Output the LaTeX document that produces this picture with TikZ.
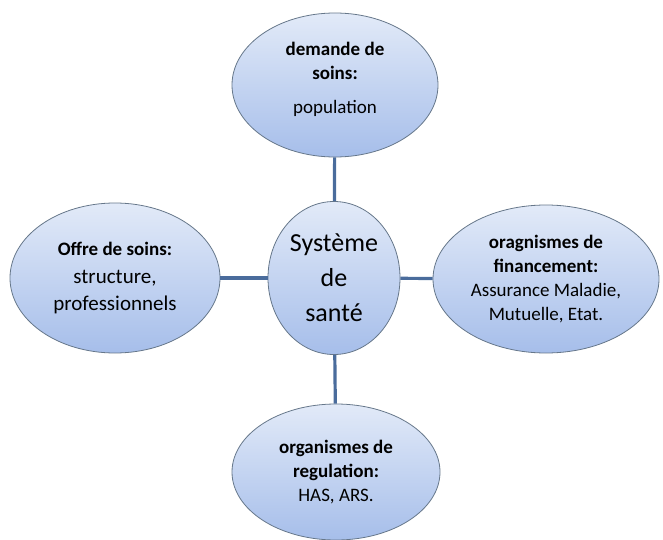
\documentclass[tikz,border=0pt]{standalone}
\usepackage{fontspec}
\setmainfont{Carlito}
\usepackage{tikz}
\usetikzlibrary{shapes}
\definecolor{bubbletop}{HTML}{E2EAF8}
\definecolor{bubblebot}{HTML}{A6BEEA}
\definecolor{bubbleline}{HTML}{66778A}
\definecolor{linkblue}{HTML}{4A6C9C}
\tikzstyle{edge}=[
	-,
	line width=3.2pt,
	draw=linkblue
]
\tikzstyle{bubble}=[
	ellipse,
	draw=bubbleline,
	line width=0.8pt,
	top color=bubbletop,
	bottom color=bubblebot,
	align=center,
	inner sep=0pt,
	font=\fontsize{19}{24}\selectfont
]

\begin{document}
\begin{tikzpicture}[x=1pt,y=-1pt]
\useasboundingbox (0,0) rectangle (663,540);
\node[bubble, minimum width=132pt, minimum height=153pt, font=\fontsize{26}{35}\selectfont] (sys) at (334,278) {Système\\de\\santé};
\node[bubble, minimum width=206pt, minimum height=144pt] (demande) at (335,85) {\textbf{demande de}\\\textbf{soins:}\\[10pt]population\\[-10pt]};
\node[bubble, minimum width=210pt, minimum height=150pt, font=\fontsize{21}{27}\selectfont] (offre) at (115,278) {{\fontsize{19}{24}\selectfont\bfseries Offre de soins:}\\[1pt]structure,\\professionnels};
\node[bubble, minimum width=226pt, minimum height=148pt] (financement) at (546,279) {\textbf{oragnismes de}\\\textbf{financement:}\\Assurance Maladie,\\Mutuelle, Etat.};
\node[bubble, minimum width=208pt, minimum height=136pt] (regulation) at (336,472) {\textbf{organismes de}\\\textbf{regulation:}\\HAS, ARS.};

\draw[edge] (demande) to (sys);
\draw[edge] (offre) to (sys);
\draw[edge] (financement) to (sys);
\draw[edge] (regulation) to (sys);

\end{tikzpicture}
\end{document}
